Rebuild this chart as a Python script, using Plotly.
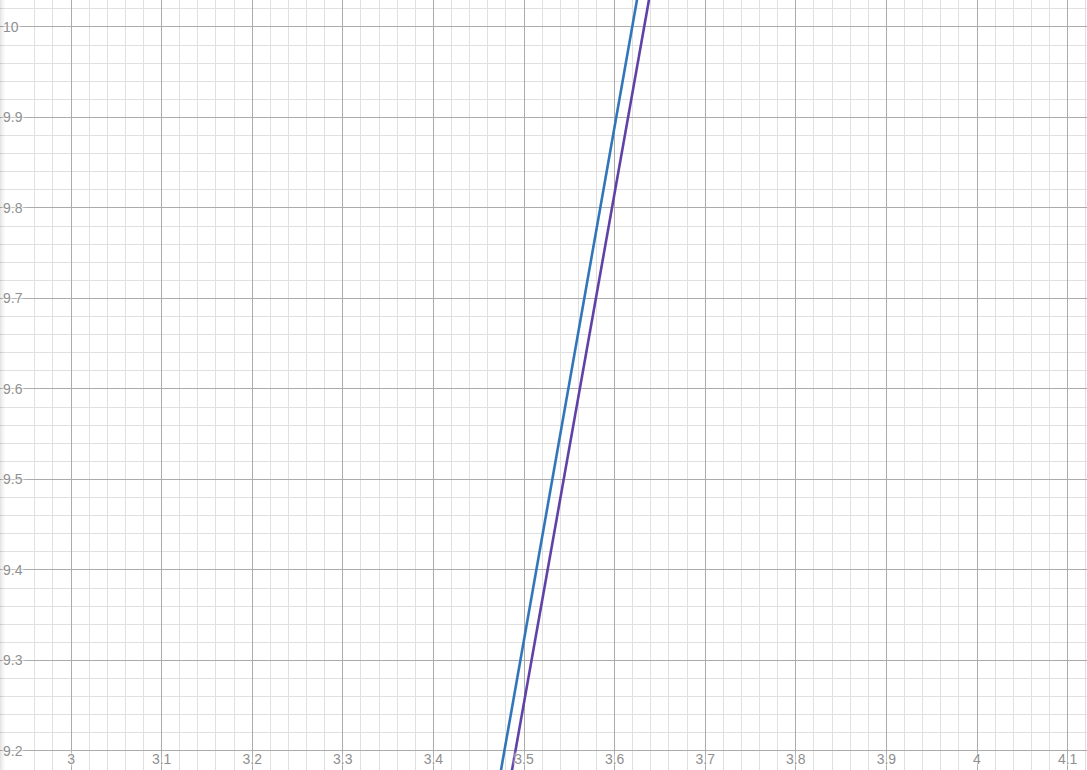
import plotly.graph_objects as go

# Series data
blue_x = [3.4783, 3.6194]
blue_y = [9.2, 10.0]
purple_x = [3.4905, 3.6326]
purple_y = [9.2, 10.0]

x_ticks = [3.0, 3.1, 3.2, 3.3, 3.4, 3.5, 3.6, 3.7, 3.8, 3.9, 4.0, 4.1]
x_labels = ["3", "3.1", "3.2", "3.3", "3.4", "3.5", "3.6", "3.7", "3.8", "3.9", "4", "4.1"]
y_ticks = [9.2, 9.3, 9.4, 9.5, 9.6, 9.7, 9.8, 9.9, 10.0]
y_labels = ["9.2", "9.3", "9.4", "9.5", "9.6", "9.7", "9.8", "9.9", "10"]

x_range = [2.9216, 4.1214]
y_range = [9.179, 10.0298]

fig = go.Figure()

def extend(xs, ys):
    # extend the straight line beyond the visible window
    slope = (ys[1] - ys[0]) / (xs[1] - xs[0])
    y0, y1 = y_range[0] - 0.1, y_range[1] + 0.1
    return [xs[0] + (y0 - ys[0]) / slope, xs[0] + (y1 - ys[0]) / slope], [y0, y1]

bx, by = extend(blue_x, blue_y)
px, py = extend(purple_x, purple_y)

fig.add_trace(go.Scatter(x=bx, y=by, mode="lines",
                         line=dict(color="#3176b9", width=2.6), hoverinfo="skip"))
fig.add_trace(go.Scatter(x=px, y=py, mode="lines",
                         line=dict(color="#6042a6", width=2.6), hoverinfo="skip"))

halo = "0 0 2px white, 0 0 3px white, 0 0 4px white, 0 0 4px white"
tickfont = dict(family="Liberation Sans, Arial, sans-serif", size=14, color="#8f8f8f", shadow=halo)

fig.update_xaxes(range=x_range, tickvals=x_ticks, ticktext=x_labels,
                 showgrid=True, gridcolor="#ababab", gridwidth=1,
                 zeroline=False, showline=False, ticks="",
                 ticklabelposition="inside", tickfont=tickfont,
                 minor=dict(dtick=0.02, showgrid=True, gridcolor="#e0e0e0", gridwidth=1, tick0=3.0))
fig.update_yaxes(range=y_range, tickvals=y_ticks, ticktext=y_labels,
                 showgrid=True, gridcolor="#ababab", gridwidth=1,
                 zeroline=False, showline=False, ticks="",
                 ticklabelposition="inside", tickfont=tickfont,
                 minor=dict(dtick=0.02, showgrid=True, gridcolor="#e0e0e0", gridwidth=1, tick0=9.2))

# faint shadow along the left edge
shapes = []
for i, op in enumerate([0.10, 0.07, 0.05, 0.03, 0.015]):
    shapes.append(dict(type="rect", xref="paper", yref="paper",
                       x0=i / 1087, x1=(i + 1) / 1087, y0=0, y1=1,
                       fillcolor="black", opacity=op, line=dict(width=0), layer="above"))

fig.update_layout(width=1087, height=770, margin=dict(l=0, r=0, t=0, b=0),
                  plot_bgcolor="white", paper_bgcolor="white",
                  showlegend=False, shapes=shapes)

fig.write_html("out.html", config={"displayModeBar": False})

# remove the browser's default page margin so the chart fills the window
with open("out.html", "r", encoding="utf-8") as f:
    html = f.read()
html = html.replace("<body>", '<body style="margin:0;padding:0;overflow:hidden">', 1)
with open("out.html", "w", encoding="utf-8") as f:
    f.write(html)
